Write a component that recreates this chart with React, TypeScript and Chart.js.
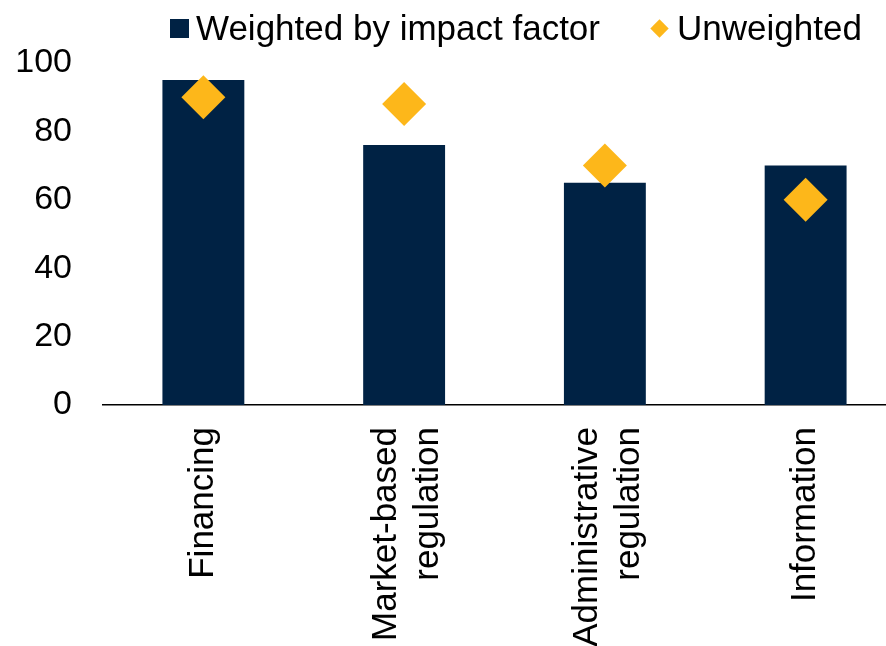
import React, { useEffect, useRef } from "react";
import { Chart, registerables } from "chart.js";

Chart.register(...registerables);

const categories: (string | string[])[] = [
  "Financing",
  ["Market-based", "regulation"],
  ["Administrative", "regulation"],
  "Information",
];
const weighted = [95, 76, 65, 70];
const unweighted = [90, 88, 70, 60];
const yTicks = [0, 20, 40, 60, 80, 100];

const NAVY = "#002244";
const ORANGE = "#FDB71A";
const FONT = "'Liberation Sans', Arial, sans-serif";

// Center multi-line rotated category labels on their tick
const centerMultiline = {
  id: "centerMultiline",
  beforeDraw(chart: any) {
    const sx = chart.scales.x;
    if (!sx || !sx.getLabelItems) return;
    const items = sx.getLabelItems(chart.chartArea);
    items.forEach((it: any) => {
      if (it._shifted) return;
      const lines = Array.isArray(it.label) ? it.label.length : 1;
      if (lines > 1 && it.options && it.options.translation) {
        it.options.translation = [it.options.translation[0] - (lines - 1) * 18, it.options.translation[1]];
      }
      it._shifted = true;
    });
  },
};

export default function App() {
  const ref = useRef<HTMLCanvasElement | null>(null);

  useEffect(() => {
    document.body.style.margin = "0";
    const ctx = ref.current!.getContext("2d")!;
    const chart = new Chart(ctx, {
      type: "bar",
      data: {
        labels: categories,
        datasets: [
          {
            type: "bar",
            label: "Weighted by impact factor",
            data: weighted,
            backgroundColor: NAVY,
            borderWidth: 0,
            categoryPercentage: 1,
            barPercentage: 0.408,
            order: 2,
          },
          {
            type: "line",
            label: "Unweighted",
            data: unweighted,
            showLine: false,
            pointStyle: "rectRot",
            pointRadius: 22,
            pointHoverRadius: 22,
            backgroundColor: ORANGE,
            borderColor: ORANGE,
            borderWidth: 0,
            order: 1,
          },
        ],
      },
      options: {
        responsive: false,
        maintainAspectRatio: false,
        animation: false,
        layout: { padding: { top: 63, left: 15, right: 0, bottom: 0 } },
        plugins: {
          legend: { display: false },
          tooltip: { enabled: false },
        },
        scales: {
          x: {
            grid: { display: false, drawTicks: false, tickLength: 0 },
            border: { display: true, color: "#000000", width: 1.5 },
            afterFit: (axis: any) => {
              axis.height = 241;
              axis.paddingLeft = 0;
              axis.paddingRight = 0;
            },
            ticks: {
              color: "#000000",
              font: { family: FONT, size: 35 },
              minRotation: 90,
              maxRotation: 90,
              padding: 22,
              autoSkip: false,
            },
          },
          y: {
            min: 0,
            max: 100,
            afterBuildTicks: (axis: any) => {
              axis.ticks = yTicks.map((v) => ({ value: v }));
            },
            afterFit: (axis: any) => {
              axis.width = 88;
            },
            grid: { display: false, drawTicks: false, tickLength: 0 },
            border: { display: false },
            ticks: {
              color: "#000000",
              font: { family: FONT, size: 34 },
              padding: 31,
            },
          },
        },
      },
      plugins: [centerMultiline],
    });
    return () => chart.destroy();
  }, []);

  return (
    <div style={{ position: "relative", width: 886, height: 646, background: "#fff", overflow: "hidden" }}>
      <div style={{ position: "absolute", left: 0, top: 0, width: 928, height: 646 }}>
        <canvas ref={ref} width={928} height={646} style={{ display: "block", width: 928, height: 646 }} />
      </div>
      <div
        style={{
          position: "absolute",
          top: 9,
          left: 170,
          display: "flex",
          alignItems: "center",
          fontFamily: FONT,
          fontSize: 35,
          color: "#000",
          whiteSpace: "nowrap",
          lineHeight: "38px",
        }}
      >
        <span style={{ display: "inline-block", width: 19, height: 19, background: NAVY, marginRight: 7 }} />
        <span>Weighted by impact factor</span>
        <span
          style={{
            display: "inline-block",
            width: 13,
            height: 13,
            background: ORANGE,
            transform: "rotate(45deg)",
            marginLeft: 53,
            marginRight: 11,
          }}
        />
        <span>Unweighted</span>
      </div>
    </div>
  );
}
